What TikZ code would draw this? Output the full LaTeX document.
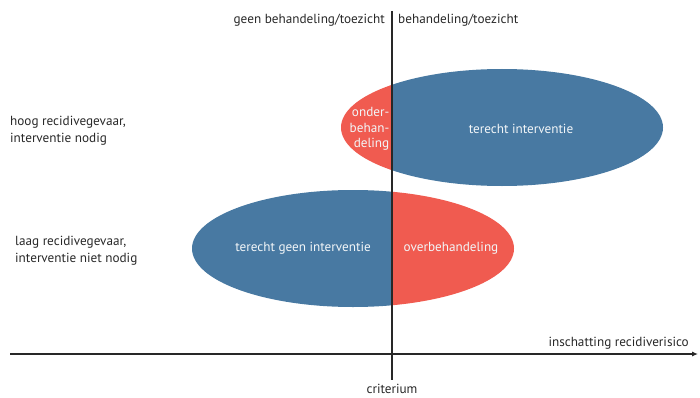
\documentclass[tikz,border=0pt]{standalone}
\usepackage{fontspec}
\setmainfont{PT Sans}
\usetikzlibrary{arrows.meta}
\definecolor{eblue}{RGB}{72,121,162}
\definecolor{ered}{RGB}{240,91,80}
\definecolor{axisgray}{RGB}{40,40,40}
\tikzset{
  lbl/.style={font=\fontsize{13.2}{17}\selectfont, text=axisgray, inner sep=0pt},
  inlbl/.style={font=\fontsize{13.2}{17}\selectfont, text=white!93!eblue, inner sep=0pt},
}
\begin{document}
\begin{tikzpicture}[x=1pt,y=1pt]
\useasboundingbox (0,0) rectangle (700,397);
\begin{scope}
  \clip (0,0) rectangle (392,397);
  \fill[ered] (502,269.5) ellipse [x radius=161, y radius=58.5];
  \fill[eblue] (353,148.5) ellipse [x radius=161, y radius=58.5];
\end{scope}
\begin{scope}
  \clip (392,0) rectangle (700,397);
  \fill[eblue] (502,269.5) ellipse [x radius=161, y radius=58.5];
  \fill[ered] (353,148.5) ellipse [x radius=161, y radius=58.5];
\end{scope}
% axes
\coordinate (vtop) at (392,386);
\coordinate (vbot) at (392,17);
\coordinate (hl) at (10,43);
\coordinate (hr) at (698,43);
\draw[axisgray, line width=1.1pt] (vtop) -- (vbot);
\draw[axisgray, line width=1.1pt, -{Latex[length=6pt,width=5pt]}] (hl) -- (hr);
% labels
\node[lbl, anchor=east] (gb) at (385,377) {geen behandeling/toezicht};
\node[lbl, anchor=west] (b) at (398,377) {behandeling/toezicht};
\node[lbl, anchor=west, align=left] (hoog) at (10,266) {hoog recidivegevaar,\\interventie nodig};
\node[lbl, anchor=west, align=left] (laag) at (15,146) {laag recidivegevaar,\\interventie niet nodig};
\node[lbl, anchor=east] (ins) at (689,54) {inschatting recidiverisico};
\node[lbl] (crit) at (392,8) {criterium};
\node[inlbl] (ti) at (521,268) {terecht interventie};
\node[inlbl, anchor=east, align=right, font=\fontsize{13.2}{15.5}\selectfont] (ob) at (389.5,268) {onder-\\behan-\\deling};
\node[inlbl] (tgi) at (303,149) {terecht geen interventie};
\node[inlbl] (ovb) at (451,149) {overbehandeling};
\end{tikzpicture}
\end{document}
